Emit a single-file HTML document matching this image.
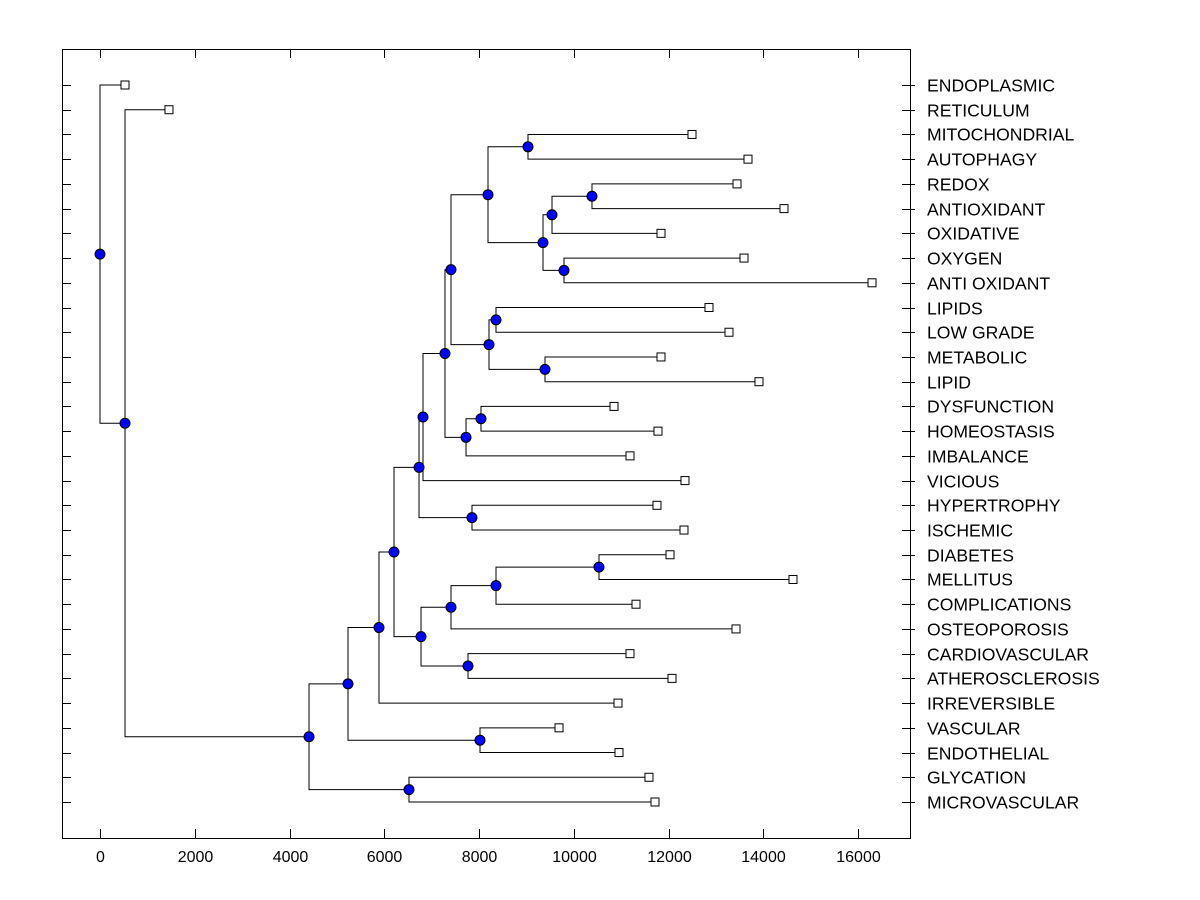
<!DOCTYPE html>
<html><head><meta charset="utf-8"><style>
body{margin:0;background:#fff;}
svg{display:block;font-family:"Liberation Sans",Arial,sans-serif;}
</style></head><body>
<svg id="chart" width="1200" height="900" viewBox="0 0 1200 900"></svg>
<script>
const leafNames=["ENDOPLASMIC","RETICULUM","MITOCHONDRIAL","AUTOPHAGY","REDOX","ANTIOXIDANT","OXIDATIVE","OXYGEN","ANTI OXIDANT","LIPIDS","LOW GRADE","METABOLIC","LIPID","DYSFUNCTION","HOMEOSTASIS","IMBALANCE","VICIOUS","HYPERTROPHY","ISCHEMIC","DIABETES","MELLITUS","COMPLICATIONS","OSTEOPOROSIS","CARDIOVASCULAR","ATHEROSCLEROSIS","IRREVERSIBLE","VASCULAR","ENDOTHELIAL","GLYCATION","MICROVASCULAR"];
const leafValues=[528,1456,12496,13678,13446,14438,11842,13594,16296,12855,13277,11842,13910,10850,11778,11187,12348,11757,12327,12032,14628,11314,13425,11187,12074,10934,9689,10955,11588,11715];
// merges: [childA, childB]; "L#" leaf, "N#" earlier merge
const mergeChildren=[
["L19","L20"],["L4","L5"],["L2","L3"],["L7","L8"],["N1","L6"],["N3","N4"],["N2","N5"],
["L9","L10"],["L11","L12"],["N7","N8"],["N6","N9"],["L13","L14"],["N11","L15"],["N10","N12"],
["N13","L16"],["L17","L18"],["N14","N15"],["N0","L21"],["N17","L22"],["L23","L24"],["N18","N19"],
["N16","N20"],["N21","L25"],["L26","L27"],["N22","N23"],["L28","L29"],["N24","N25"],["L1","N26"],["L0","N27"]];
const mergeHeights=[10533,10385,9034,9794,9541,9351,8190,8359,9393,8211,7409,8042,7726,7282,6818,7852,6734,8359,7409,7768,6776,6206,5889,8021,5235,6522,4412,528,0];
const xTicks=[0,2000,4000,6000,8000,10000,12000,14000,16000];

const svg=document.getElementById('chart');
const NS='http://www.w3.org/2000/svg';
const X0=62,X1=910,Y0=49,Y1=838;
const xs=v=>100+v*(758/16000);
const ys=i=>85+i*(717/29);
function mk(t,a,p){const e=document.createElementNS(NS,t);for(const k in a)e.setAttribute(k,a[k]);(p||svg).appendChild(e);return e;}

const frame=mk('rect',{x:X0+.5,y:Y0+.5,width:X1-X0,height:Y1-Y0,fill:'none',stroke:'#000','stroke-width':1});



xTicks.forEach(t=>{
  const x=Math.round(xs(t))+.5;
  const g=mk('g',{});
  
  
  mk('line',{x1:x,x2:x,y1:Y1,y2:Y1-9,stroke:'#000'},g);
  mk('line',{x1:x,x2:x,y1:Y0,y2:Y0+9,stroke:'#000'},g);
  const tx=mk('text',{x:x,y:862,'text-anchor':'middle','font-size':16},g);
  tx.textContent=t;
});

leafNames.forEach((n,i)=>{
  const y=Math.round(ys(i))+.5;
  const g=mk('g',{});
  
  
  mk('line',{x1:X0,x2:X0+9,y1:y,y2:y,stroke:'#000'},g);
  mk('line',{x1:X1-8,x2:X1+5,y1:y,y2:y,stroke:'#000'},g);
  const tx=mk('text',{x:927,y:y+6,'font-size':17.6},g);
  tx.textContent=n;
});

const nodes=[];
function pos(id){
  const k=+id.slice(1);
  if(id[0]==='L')return {x:xs(leafValues[k]),y:ys(k),leaf:true};
  return nodes[k];
}
const linesG=mk('g',{});


mergeChildren.forEach((c,k)=>{
  const a=pos(c[0]),b=pos(c[1]);
  const x=xs(mergeHeights[k]);
  nodes[k]={x:x,y:(a.y+b.y)/2};
  const p=`M${a.x},${a.y}H${x}V${b.y}H${b.x}`;
  mk('path',{d:p,fill:'none',stroke:'#000','stroke-width':1},linesG);
});
leafValues.forEach((v,i)=>{
  const r=mk('rect',{x:xs(v)-4,y:ys(i)-4,width:8,height:8,fill:'#fff',stroke:'#000'});
  
  
});
nodes.forEach((n,k)=>{
  const c=mk('circle',{cx:n.x,cy:n.y,r:5,fill:'#0000ff',stroke:'#000','stroke-width':1});
  
  
});
</script>
</body></html>
